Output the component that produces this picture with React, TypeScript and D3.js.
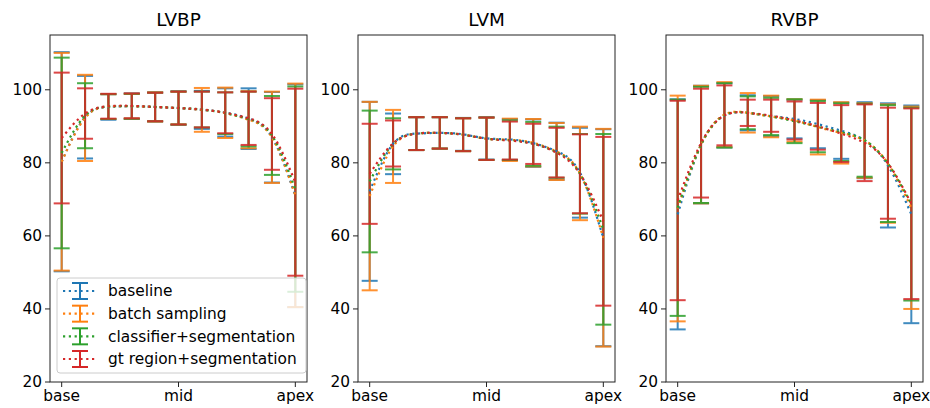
import React from 'react';
import * as d3 from 'd3';

// mean and std per slice position (base -> apex), 11 positions
const positions = d3.range(11);
const tickPositions = [0, 5, 10];
const tickLabels = ['base', 'mid', 'apex'];
const yTicks = [20, 40, 60, 80, 100];

const seriesNames = ['baseline', 'batch sampling', 'classifier+segmentation', 'gt region+segmentation'];
const seriesColors = ['#1f77b4', '#ff7f0e', '#2ca02c', '#d62728'];

// LVBP
const lvbpMean = [
  [80.3, 92.5, 95.3, 95.5, 95.3, 95.0, 94.5, 93.8, 92.1, 87.0, 71.0],
  [80.3, 92.3, 95.4, 95.5, 95.3, 95.0, 94.5, 93.7, 91.8, 87.0, 71.1],
  [82.7, 92.9, 95.4, 95.5, 95.3, 95.0, 94.6, 93.6, 92.0, 87.5, 72.8],
  [86.8, 93.5, 95.5, 95.6, 95.3, 95.0, 94.6, 93.7, 92.2, 87.9, 74.7],
];
const lvbpStd = [
  [30.0, 11.3, 3.5, 3.5, 4.0, 4.6, 5.2, 6.6, 8.3, 12.4, 30.5],
  [29.8, 11.8, 3.4, 3.4, 4.0, 4.5, 6.0, 6.9, 7.8, 12.5, 30.6],
  [26.1, 8.9, 3.4, 3.4, 3.9, 4.5, 4.9, 5.7, 7.5, 10.8, 28.1],
  [17.9, 6.9, 3.4, 3.4, 3.9, 4.5, 4.9, 5.6, 7.3, 9.8, 25.6],
];

// LVM
const lvmMean = [
  [72.2, 85.2, 88.0, 88.2, 87.8, 86.7, 86.4, 85.4, 83.2, 77.3, 59.5],
  [70.9, 84.5, 88.0, 88.2, 87.7, 86.6, 86.3, 85.5, 83.1, 77.1, 59.5],
  [74.9, 85.2, 88.0, 88.2, 87.7, 86.6, 86.2, 85.2, 82.9, 77.0, 61.8],
  [77.0, 85.3, 88.0, 88.2, 87.7, 86.6, 86.1, 85.2, 82.8, 77.0, 64.0],
];
const lvmStd = [
  [24.5, 8.3, 4.5, 4.3, 4.5, 5.8, 5.6, 6.5, 7.8, 12.3, 29.7],
  [25.8, 10.0, 4.5, 4.3, 4.5, 5.8, 5.8, 6.5, 7.8, 12.8, 29.8],
  [19.4, 7.0, 4.5, 4.3, 4.5, 5.8, 5.4, 6.0, 7.0, 10.9, 26.1],
  [13.7, 6.3, 4.5, 4.3, 4.5, 5.8, 5.2, 5.5, 6.8, 10.8, 23.1],
];

// RVBP
const rvbpMean = [
  [65.9, 85.0, 93.0, 93.7, 92.8, 92.0, 90.6, 88.8, 86.2, 79.3, 65.9],
  [67.5, 85.0, 93.2, 93.7, 92.7, 91.6, 89.8, 88.2, 86.1, 79.8, 67.7],
  [67.7, 84.9, 93.0, 93.7, 92.7, 91.4, 89.9, 88.4, 86.2, 79.8, 68.7],
  [69.7, 85.4, 93.0, 93.7, 92.9, 91.6, 90.0, 88.0, 85.5, 79.9, 68.8],
];
const rvbpStd = [
  [31.5, 16.1, 8.8, 4.8, 5.5, 5.3, 6.6, 7.7, 10.4, 17.0, 29.8],
  [30.9, 16.1, 8.9, 5.4, 5.7, 5.8, 7.5, 8.4, 10.2, 16.2, 27.7],
  [29.6, 15.9, 8.8, 4.5, 5.1, 6.0, 7.0, 7.9, 10.0, 16.0, 26.4],
  [27.3, 14.9, 8.2, 3.6, 4.4, 5.2, 6.4, 7.8, 10.5, 15.2, 26.1],
];

const panelTitles = ['LVBP', 'LVM', 'RVBP'];
const panelMeans = [lvbpMean, lvmMean, rvbpMean];
const panelStds = [lvbpStd, lvmStd, rvbpStd];

const W = 930;
const H = 408;
const panelLeft = [50, 358, 666];
const panelW = 257;
const top = 35;
const bottom = 382;
const font = 'DejaVu Sans, sans-serif';
const fs = 15.4;
const cap = 8;

const Panel = ({ idx }: { idx: number }) => {
  const x0 = panelLeft[idx];
  const x = d3.scaleLinear().domain([-0.5, 10.5]).range([x0, x0 + panelW]);
  const y = d3.scaleLinear().domain([20, 115]).range([bottom, top]);
  const line = d3.line<number>()
    .x((_, i) => x(positions[i]))
    .y(d => y(d))
    .curve(d3.curveNatural);
  const means = panelMeans[idx];
  const stds = panelStds[idx];

  return (
    <g>
      {means.map((m, s) => (
        <g key={'eb' + s} stroke={seriesColors[s]} strokeWidth={2} opacity={0.85}>
          {positions.map(p => {
            const lo = y(m[p] - stds[s][p]);
            const hi = y(m[p] + stds[s][p]);
            const cx = x(p);
            return (
              <g key={p}>
                <line x1={cx} x2={cx} y1={lo} y2={hi} />
                <line x1={cx - cap} x2={cx + cap} y1={lo} y2={lo} />
                <line x1={cx - cap} x2={cx + cap} y1={hi} y2={hi} />
              </g>
            );
          })}
        </g>
      ))}
      {means.map((m, s) => (
        <path key={'ln' + s} d={line(m) || ''} fill="none" stroke={seriesColors[s]}
          strokeWidth={2.2} strokeDasharray="2.2 3.6" />
      ))}
      <rect x={x0} y={top} width={panelW} height={bottom - top} fill="none" stroke="#222" strokeWidth={1} />
      {yTicks.map(t => (
        <g key={t}>
          <line x1={x0 - 5} x2={x0} y1={y(t)} y2={y(t)} stroke="#222" />
          <text x={x0 - 8} y={y(t)} dy="0.35em" textAnchor="end" fontSize={fs} fontFamily={font}>{t}</text>
        </g>
      ))}
      {tickPositions.map((t, i) => (
        <g key={t}>
          <line x1={x(t)} x2={x(t)} y1={bottom} y2={bottom + 5} stroke="#222" />
          <text x={x(t)} y={bottom + 19} textAnchor="middle" fontSize={fs} fontFamily={font}>{tickLabels[i]}</text>
        </g>
      ))}
      <text x={x0 + panelW / 2} y={top - 9} textAnchor="middle" fontSize={18.4} fontFamily={font}>{panelTitles[idx]}</text>
    </g>
  );
};

const Legend = () => {
  const lx = 57;
  const ly = 278;
  const rowY = d3.scaleLinear().domain([0, 3]).range([ly + 13, ly + 81]);
  return (
    <g>
      <rect x={lx} y={ly} width={249} height={95} rx={3} fill="white" fillOpacity={0.8} stroke="#ccc" />
      {seriesNames.map((n, s) => {
        const cy = rowY(s);
        return (
          <g key={n}>
            <line x1={lx + 6} x2={lx + 38} y1={cy} y2={cy} stroke={seriesColors[s]} strokeWidth={2.2} strokeDasharray="2.2 3.6" />
            <g stroke={seriesColors[s]} strokeWidth={2}>
              <line x1={lx + 23} x2={lx + 23} y1={cy - 8} y2={cy + 8} />
              <line x1={lx + 15} x2={lx + 31} y1={cy - 8} y2={cy - 8} />
              <line x1={lx + 15} x2={lx + 31} y1={cy + 8} y2={cy + 8} />
            </g>
            <text x={lx + 51} y={cy} dy="0.35em" fontSize={fs} fontFamily={font}>{n}</text>
          </g>
        );
      })}
    </g>
  );
};

export default function App() {
  return (
    <svg width={W} height={H} style={{ position: 'absolute', left: 0, top: 0, background: 'white' }}>
      <Panel idx={0} />
      <Panel idx={1} />
      <Panel idx={2} />
      <Legend />
    </svg>
  );
}
